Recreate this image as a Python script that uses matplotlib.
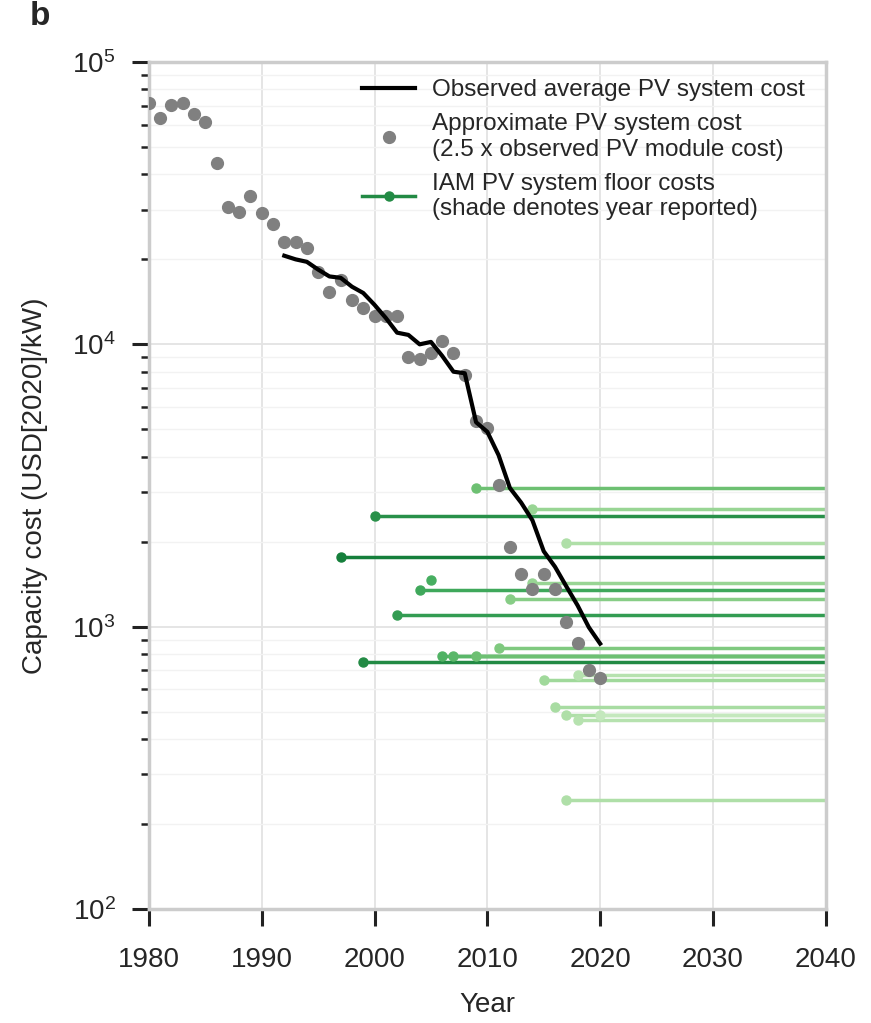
import numpy as np
import matplotlib
matplotlib.use('Agg')
import matplotlib.pyplot as plt
from matplotlib import cm

plt.rcParams['font.family'] = ['Liberation Sans', 'DejaVu Sans']
plt.rcParams['text.color'] = '#262626'
plt.rcParams['axes.labelcolor'] = '#262626'
plt.rcParams['xtick.color'] = '#262626'
plt.rcParams['ytick.color'] = '#262626'

# Modulo PV * 2.5 (pontos cinza)
anos_modulo = list(range(1980, 2021))
custo_modulo = [71400, 63200, 70400, 71800, 65300, 61500, 43800, 30600, 29500, 33500,
                29300, 26600, 23000, 23000, 21900, 18000, 15300, 16900, 14300, 13500,
                12600, 12600, 12600, 9050, 8890, 9310, 10290, 9350, 7800, 5330,
                5050, 3180, 1915, 1540, 1360, 1540, 1360, 1040, 875, 700, 658]

# Custo medio observado do sistema (linha preta)
anos_sistema = list(range(1992, 2021))
custo_sistema = [20600, 20000, 19600, 18400, 17400, 17200, 16000, 15200, 13800, 12400,
                 11000, 10800, 10000, 10200, 9100, 8000, 7900, 5300, 4900, 4050,
                 3100, 2750, 2380, 1850, 1630, 1390, 1190, 995, 871]

# Custos piso dos IAMs: ano reportado, valor, ano final
iam_ano = [1997, 1999, 2000, 2002, 2004, 2005, 2006, 2007, 2009, 2009, 2011,
           2012, 2014, 2014, 2015, 2016, 2017, 2017, 2017, 2018, 2018, 2020]
iam_custo = [1760, 750, 2470, 1100, 1345, 1460, 790, 790, 790, 3110, 841,
             1257, 2615, 1425, 649, 520, 1980, 488, 244, 673, 466, 488]
iam_fim = [2040, 2040, 2040, 2040, 2040, 2005, 2040, 2040, 2040, 2040, 2040,
           2040, 2040, 2040, 2040, 2040, 2040, 2040, 2040, 2040, 2040, 2040]

fig = plt.figure(figsize=(8.71, 10.23), dpi=100)
ax = fig.add_axes([0.171, 0.1114, 0.777, 0.828])

ax.set_yscale('log')
ax.set_xlim(1980, 2040)
ax.set_ylim(1e2, 1e5)

# grade
ax.grid(True, which='major', color='#e3e3e3', linewidth=1.3)
ax.grid(True, which='minor', axis='y', color='#f2f2f2', linewidth=1.0)
ax.set_axisbelow(True)

ordem = np.argsort(iam_ano, kind='stable')
for i in ordem:
    c = cm.Greens(0.8 - (iam_ano[i] - 1997) * 0.0235)
    ax.plot([iam_ano[i], iam_fim[i]], [iam_custo[i], iam_custo[i]], color=c, lw=2.5,
            solid_capstyle='butt', zorder=2)
    ax.plot(iam_ano[i], iam_custo[i], 'o', color=c, ms=6.5, zorder=2)

ax.plot(anos_modulo, custo_modulo, 'o', color='#808080', ms=8.5, lw=0, zorder=3,
        label='Approximate PV system cost\n(2.5 x observed PV module cost)')
ax.plot(anos_sistema, custo_sistema, color='black', lw=3, zorder=4,
        label='Observed average PV system cost')
ax.plot([], [], '-o', color=cm.Greens(0.75), lw=2.5, ms=6.5,
        label='IAM PV system floor costs\n(shade denotes year reported)')

h, l = ax.get_legend_handles_labels()
leg = ax.legend([h[1], h[0], h[2]], [l[1], l[0], l[2]], loc='upper right', frameon=False,
                fontsize=17.5, handlelength=2.2, handletextpad=0.7, labelspacing=0.5,
                bbox_to_anchor=(0.995, 1.0), borderaxespad=0.3)

for s in ax.spines.values():
    s.set_color('#cccccc')
    s.set_linewidth(2.5)

ax.set_xticks([1980, 1990, 2000, 2010, 2020, 2030, 2040])
ax.tick_params(axis='both', which='major', labelsize=20, length=12, width=2.2,
               color='#222222')
ax.tick_params(axis='x', which='major', pad=15)
ax.tick_params(axis='y', which='major', pad=12)
ax.tick_params(axis='y', which='minor', length=6, width=1.8, color='#222222')
ax.tick_params(axis='x', which='minor', bottom=False)

ax.set_xlabel('Year', fontsize=20, labelpad=14)
ax.set_ylabel('Capacity cost (USD[2020]/kW)', fontsize=20, labelpad=17)

fig.text(0.034, 0.999, 'b', fontsize=24, fontweight='bold', color='#262626', va='top')

fig.savefig('out.png', dpi=100)
